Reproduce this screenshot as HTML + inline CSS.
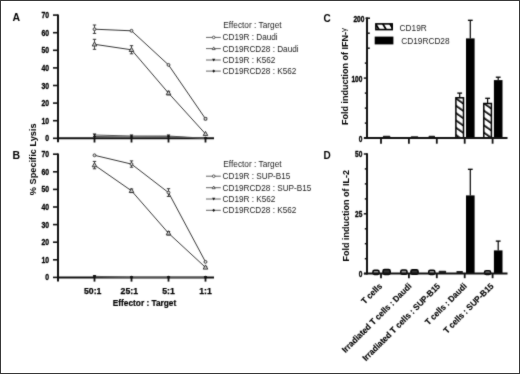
<!DOCTYPE html><html><head><meta charset="utf-8"><style>html,body{margin:0;padding:0;background:#fff;}svg{display:block;}</style></head><body><svg width="520" height="374" viewBox="0 0 520 374" font-family='"Liberation Sans", sans-serif'>
<defs><filter id="soft" x="0" y="0" width="520" height="374" filterUnits="userSpaceOnUse" color-interpolation-filters="sRGB"><feConvolveMatrix order="3" kernelMatrix="0.02 0.08 0.02 0.08 0.60 0.08 0.02 0.08 0.02" edgeMode="none"/></filter><pattern id="hatch" patternUnits="userSpaceOnUse" width="6" height="6" patternTransform="rotate(-55)"><rect width="6" height="6" fill="#fff"/><rect x="0" y="0" width="1.7" height="6" fill="#000"/></pattern><pattern id="hatch2" patternUnits="userSpaceOnUse" x="2.5" width="6.2" height="6.2" patternTransform="rotate(-30)"><rect width="6.2" height="6.2" fill="#fff"/><rect x="0" y="0" width="1.8" height="6.2" fill="#000"/></pattern></defs>
<rect x="0" y="0" width="520" height="374" fill="#fff"/>
<g filter="url(#soft)">
<text x="12.6" y="20.8" font-size="10.5" font-weight="bold">A</text>
<line x1="58" y1="14.5" x2="58" y2="142.3" stroke="#111" stroke-width="2"/>
<line x1="53" y1="138.3" x2="58" y2="138.3" stroke="#111" stroke-width="1.6"/>
<text transform="translate(49.2,141.3) scale(0.82,1)" font-size="8.4" font-weight="bold" text-anchor="end" stroke="#000" stroke-width="0.3">0</text>
<line x1="53" y1="120.7" x2="58" y2="120.7" stroke="#111" stroke-width="1.6"/>
<text transform="translate(49.2,123.7) scale(0.82,1)" font-size="8.4" font-weight="bold" text-anchor="end" stroke="#000" stroke-width="0.3">10</text>
<line x1="53" y1="103.1" x2="58" y2="103.1" stroke="#111" stroke-width="1.6"/>
<text transform="translate(49.2,106.1) scale(0.82,1)" font-size="8.4" font-weight="bold" text-anchor="end" stroke="#000" stroke-width="0.3">20</text>
<line x1="53" y1="85.5" x2="58" y2="85.5" stroke="#111" stroke-width="1.6"/>
<text transform="translate(49.2,88.5) scale(0.82,1)" font-size="8.4" font-weight="bold" text-anchor="end" stroke="#000" stroke-width="0.3">30</text>
<line x1="53" y1="67.9" x2="58" y2="67.9" stroke="#111" stroke-width="1.6"/>
<text transform="translate(49.2,70.9) scale(0.82,1)" font-size="8.4" font-weight="bold" text-anchor="end" stroke="#000" stroke-width="0.3">40</text>
<line x1="53" y1="50.3" x2="58" y2="50.3" stroke="#111" stroke-width="1.6"/>
<text transform="translate(49.2,53.3) scale(0.82,1)" font-size="8.4" font-weight="bold" text-anchor="end" stroke="#000" stroke-width="0.3">50</text>
<line x1="53" y1="32.7" x2="58" y2="32.7" stroke="#111" stroke-width="1.6"/>
<text transform="translate(49.2,35.7) scale(0.82,1)" font-size="8.4" font-weight="bold" text-anchor="end" stroke="#000" stroke-width="0.3">60</text>
<line x1="53" y1="15.1" x2="58" y2="15.1" stroke="#111" stroke-width="1.6"/>
<text transform="translate(49.2,18.1) scale(0.82,1)" font-size="8.4" font-weight="bold" text-anchor="end" stroke="#000" stroke-width="0.3">70</text>
<line x1="57" y1="138.3" x2="214" y2="138.3" stroke="#111" stroke-width="2"/>
<line x1="94.5" y1="138.3" x2="94.5" y2="142.5" stroke="#111" stroke-width="1.8"/>
<line x1="131.5" y1="138.3" x2="131.5" y2="142.5" stroke="#111" stroke-width="1.8"/>
<line x1="168.5" y1="138.3" x2="168.5" y2="142.5" stroke="#111" stroke-width="1.8"/>
<line x1="205.5" y1="138.3" x2="205.5" y2="142.5" stroke="#111" stroke-width="1.8"/>
<polyline points="94.5,135.0 131.5,136.0 168.5,136.0 205.5,138.3" fill="none" stroke="#555" stroke-width="1.0"/>
<path d="M92.7,133.556 L96.3,133.556 L94.5,136.556Z" fill="#111"/>
<path d="M129.7,134.612 L133.3,134.612 L131.5,137.612Z" fill="#111"/>
<path d="M166.7,134.612 L170.3,134.612 L168.5,137.612Z" fill="#111"/>
<path d="M203.7,136.9 L207.3,136.9 L205.5,139.9Z" fill="#111"/>
<polyline points="94.5,136.5 131.5,136.9 168.5,136.7 205.5,138.3" fill="none" stroke="#555" stroke-width="1.0"/>
<path d="M94.5,134.74 L96.1,136.54000000000002 L94.5,138.34000000000003 L92.9,136.54000000000002Z" fill="#111"/>
<path d="M131.5,135.092 L133.1,136.89200000000002 L131.5,138.69200000000004 L129.9,136.89200000000002Z" fill="#111"/>
<path d="M168.5,134.916 L170.1,136.716 L168.5,138.51600000000002 L166.9,136.716Z" fill="#111"/>
<path d="M205.5,136.5 L207.1,138.3 L205.5,140.10000000000002 L203.9,138.3Z" fill="#111"/>
<polyline points="94.5,29.2 131.5,30.8 168.5,64.9 205.5,118.8" fill="none" stroke="#353535" stroke-width="1.0"/>
<polyline points="94.5,44.3 131.5,49.8 168.5,93.1 205.5,133.9" fill="none" stroke="#353535" stroke-width="1.0"/>
<line x1="94.5" y1="25.0" x2="94.5" y2="33.4" stroke="#333" stroke-width="0.9"/>
<line x1="92.8" y1="25.0" x2="96.2" y2="25.0" stroke="#333" stroke-width="1"/>
<line x1="92.8" y1="33.4" x2="96.2" y2="33.4" stroke="#333" stroke-width="1"/>
<line x1="205.5" y1="117.7" x2="205.5" y2="119.8" stroke="#333" stroke-width="0.9"/>
<line x1="203.8" y1="117.7" x2="207.2" y2="117.7" stroke="#333" stroke-width="1"/>
<line x1="203.8" y1="119.8" x2="207.2" y2="119.8" stroke="#333" stroke-width="1"/>
<line x1="94.5" y1="39.3" x2="94.5" y2="49.3" stroke="#333" stroke-width="0.9"/>
<line x1="92.8" y1="39.3" x2="96.2" y2="39.3" stroke="#333" stroke-width="1"/>
<line x1="92.8" y1="49.3" x2="96.2" y2="49.3" stroke="#333" stroke-width="1"/>
<line x1="131.5" y1="45.7" x2="131.5" y2="53.8" stroke="#333" stroke-width="0.9"/>
<line x1="129.8" y1="45.7" x2="133.2" y2="45.7" stroke="#333" stroke-width="1"/>
<line x1="129.8" y1="53.8" x2="133.2" y2="53.8" stroke="#333" stroke-width="1"/>
<line x1="168.5" y1="91.3" x2="168.5" y2="94.8" stroke="#333" stroke-width="0.9"/>
<line x1="166.8" y1="91.3" x2="170.2" y2="91.3" stroke="#333" stroke-width="1"/>
<line x1="166.8" y1="94.8" x2="170.2" y2="94.8" stroke="#333" stroke-width="1"/>
<circle cx="94.5" cy="29.2" r="1.45" fill="#ddd" stroke="#333" stroke-width="0.9"/>
<circle cx="131.5" cy="30.8" r="1.45" fill="#ddd" stroke="#333" stroke-width="0.9"/>
<circle cx="168.5" cy="64.9" r="1.45" fill="#ddd" stroke="#333" stroke-width="0.9"/>
<circle cx="205.5" cy="118.8" r="1.45" fill="#ddd" stroke="#333" stroke-width="0.9"/>
<path d="M94.5,41.8 L96.8,46.0 L92.2,46.0Z" fill="#ccc" stroke="#333" stroke-width="0.95"/>
<path d="M131.5,47.3 L133.8,51.5 L129.2,51.5Z" fill="#ccc" stroke="#333" stroke-width="0.95"/>
<path d="M168.5,90.6 L170.8,94.8 L166.2,94.8Z" fill="#ccc" stroke="#333" stroke-width="0.95"/>
<path d="M205.5,131.4 L207.8,135.6 L203.2,135.6Z" fill="#ccc" stroke="#333" stroke-width="0.95"/>
<text x="223.3" y="27.5" font-size="8.3" fill="#222">Effector : Target</text>
<line x1="206" y1="37.4" x2="220.8" y2="37.4" stroke="#666" stroke-width="1"/>
<circle cx="213.7" cy="37.4" r="1.3" fill="#fff" stroke="#333" stroke-width="0.8"/>
<text x="222.6" y="40.4" font-size="8.2" fill="#222">CD19R : Daudi</text>
<line x1="206" y1="48.6" x2="220.8" y2="48.6" stroke="#666" stroke-width="1"/>
<path d="M213.7,46.9 L215.2,49.6 L212.2,49.6Z" fill="#fff" stroke="#333" stroke-width="0.8"/>
<text x="222.6" y="51.6" font-size="8.2" fill="#222">CD19RCD28 : Daudi</text>
<line x1="206" y1="60.0" x2="220.8" y2="60.0" stroke="#666" stroke-width="1"/>
<path d="M212.1,58.8 L215.29999999999998,58.8 L213.7,61.5Z" fill="#111"/>
<text x="222.6" y="63.0" font-size="8.2" fill="#222">CD19R : K562</text>
<line x1="206" y1="71.1" x2="220.8" y2="71.1" stroke="#666" stroke-width="1"/>
<path d="M213.7,69.5 L215.1,71.1 L213.7,72.7 L212.29999999999998,71.1Z" fill="#111"/>
<text x="222.6" y="74.1" font-size="8.2" fill="#222">CD19RCD28 : K562</text>
<text x="12.6" y="159.0" font-size="10.5" font-weight="bold">B</text>
<line x1="58" y1="153.6" x2="58" y2="281.4" stroke="#111" stroke-width="2"/>
<line x1="53" y1="277.4" x2="58" y2="277.4" stroke="#111" stroke-width="1.6"/>
<text transform="translate(49.2,280.4) scale(0.82,1)" font-size="8.4" font-weight="bold" text-anchor="end" stroke="#000" stroke-width="0.3">0</text>
<line x1="53" y1="259.8" x2="58" y2="259.8" stroke="#111" stroke-width="1.6"/>
<text transform="translate(49.2,262.8) scale(0.82,1)" font-size="8.4" font-weight="bold" text-anchor="end" stroke="#000" stroke-width="0.3">10</text>
<line x1="53" y1="242.2" x2="58" y2="242.2" stroke="#111" stroke-width="1.6"/>
<text transform="translate(49.2,245.2) scale(0.82,1)" font-size="8.4" font-weight="bold" text-anchor="end" stroke="#000" stroke-width="0.3">20</text>
<line x1="53" y1="224.6" x2="58" y2="224.6" stroke="#111" stroke-width="1.6"/>
<text transform="translate(49.2,227.6) scale(0.82,1)" font-size="8.4" font-weight="bold" text-anchor="end" stroke="#000" stroke-width="0.3">30</text>
<line x1="53" y1="207.0" x2="58" y2="207.0" stroke="#111" stroke-width="1.6"/>
<text transform="translate(49.2,210.0) scale(0.82,1)" font-size="8.4" font-weight="bold" text-anchor="end" stroke="#000" stroke-width="0.3">40</text>
<line x1="53" y1="189.4" x2="58" y2="189.4" stroke="#111" stroke-width="1.6"/>
<text transform="translate(49.2,192.4) scale(0.82,1)" font-size="8.4" font-weight="bold" text-anchor="end" stroke="#000" stroke-width="0.3">50</text>
<line x1="53" y1="171.8" x2="58" y2="171.8" stroke="#111" stroke-width="1.6"/>
<text transform="translate(49.2,174.8) scale(0.82,1)" font-size="8.4" font-weight="bold" text-anchor="end" stroke="#000" stroke-width="0.3">60</text>
<line x1="53" y1="154.2" x2="58" y2="154.2" stroke="#111" stroke-width="1.6"/>
<text transform="translate(49.2,157.2) scale(0.82,1)" font-size="8.4" font-weight="bold" text-anchor="end" stroke="#000" stroke-width="0.3">70</text>
<line x1="57" y1="277.4" x2="214" y2="277.4" stroke="#111" stroke-width="2"/>
<line x1="94.5" y1="277.4" x2="94.5" y2="281.6" stroke="#111" stroke-width="1.8"/>
<line x1="131.5" y1="277.4" x2="131.5" y2="281.6" stroke="#111" stroke-width="1.8"/>
<line x1="168.5" y1="277.4" x2="168.5" y2="281.6" stroke="#111" stroke-width="1.8"/>
<line x1="205.5" y1="277.4" x2="205.5" y2="281.6" stroke="#111" stroke-width="1.8"/>
<polyline points="94.5,276.3 131.5,277.4 168.5,277.4 205.5,277.4" fill="none" stroke="#555" stroke-width="1.0"/>
<path d="M92.7,274.944 L96.3,274.944 L94.5,277.944Z" fill="#111"/>
<path d="M129.7,276.0 L133.3,276.0 L131.5,279.0Z" fill="#111"/>
<path d="M166.7,276.0 L170.3,276.0 L168.5,279.0Z" fill="#111"/>
<path d="M203.7,276.0 L207.3,276.0 L205.5,279.0Z" fill="#111"/>
<polyline points="94.5,276.9 131.5,277.4 168.5,277.4 205.5,277.4" fill="none" stroke="#555" stroke-width="1.0"/>
<path d="M94.5,275.07199999999995 L96.1,276.87199999999996 L94.5,278.67199999999997 L92.9,276.87199999999996Z" fill="#111"/>
<path d="M131.5,275.59999999999997 L133.1,277.4 L131.5,279.2 L129.9,277.4Z" fill="#111"/>
<path d="M168.5,275.59999999999997 L170.1,277.4 L168.5,279.2 L166.9,277.4Z" fill="#111"/>
<path d="M205.5,275.59999999999997 L207.1,277.4 L205.5,279.2 L203.9,277.4Z" fill="#111"/>
<polyline points="94.5,155.3 131.5,164.1 168.5,192.6 205.5,261.9" fill="none" stroke="#353535" stroke-width="1.0"/>
<polyline points="94.5,165.1 131.5,190.8 168.5,233.2 205.5,267.4" fill="none" stroke="#353535" stroke-width="1.0"/>
<line x1="131.5" y1="160.9" x2="131.5" y2="167.2" stroke="#333" stroke-width="0.9"/>
<line x1="129.8" y1="160.9" x2="133.2" y2="160.9" stroke="#333" stroke-width="1"/>
<line x1="129.8" y1="167.2" x2="133.2" y2="167.2" stroke="#333" stroke-width="1"/>
<line x1="168.5" y1="188.7" x2="168.5" y2="196.4" stroke="#333" stroke-width="0.9"/>
<line x1="166.8" y1="188.7" x2="170.2" y2="188.7" stroke="#333" stroke-width="1"/>
<line x1="166.8" y1="196.4" x2="170.2" y2="196.4" stroke="#333" stroke-width="1"/>
<line x1="94.5" y1="161.4" x2="94.5" y2="168.8" stroke="#333" stroke-width="0.9"/>
<line x1="92.8" y1="161.4" x2="96.2" y2="161.4" stroke="#333" stroke-width="1"/>
<line x1="92.8" y1="168.8" x2="96.2" y2="168.8" stroke="#333" stroke-width="1"/>
<line x1="131.5" y1="189.0" x2="131.5" y2="192.6" stroke="#333" stroke-width="0.9"/>
<line x1="129.8" y1="189.0" x2="133.2" y2="189.0" stroke="#333" stroke-width="1"/>
<line x1="129.8" y1="192.6" x2="133.2" y2="192.6" stroke="#333" stroke-width="1"/>
<line x1="168.5" y1="231.5" x2="168.5" y2="235.0" stroke="#333" stroke-width="0.9"/>
<line x1="166.8" y1="231.5" x2="170.2" y2="231.5" stroke="#333" stroke-width="1"/>
<line x1="166.8" y1="235.0" x2="170.2" y2="235.0" stroke="#333" stroke-width="1"/>
<line x1="205.5" y1="266.5" x2="205.5" y2="268.2" stroke="#333" stroke-width="0.9"/>
<line x1="203.8" y1="266.5" x2="207.2" y2="266.5" stroke="#333" stroke-width="1"/>
<line x1="203.8" y1="268.2" x2="207.2" y2="268.2" stroke="#333" stroke-width="1"/>
<circle cx="94.5" cy="155.3" r="1.45" fill="#ddd" stroke="#333" stroke-width="0.9"/>
<circle cx="131.5" cy="164.1" r="1.45" fill="#ddd" stroke="#333" stroke-width="0.9"/>
<circle cx="168.5" cy="192.6" r="1.45" fill="#ddd" stroke="#333" stroke-width="0.9"/>
<circle cx="205.5" cy="261.9" r="1.45" fill="#ddd" stroke="#333" stroke-width="0.9"/>
<path d="M94.5,162.6 L96.8,166.8 L92.2,166.8Z" fill="#ccc" stroke="#333" stroke-width="0.95"/>
<path d="M131.5,188.3 L133.8,192.5 L129.2,192.5Z" fill="#ccc" stroke="#333" stroke-width="0.95"/>
<path d="M168.5,230.7 L170.8,234.9 L166.2,234.9Z" fill="#ccc" stroke="#333" stroke-width="0.95"/>
<path d="M205.5,264.9 L207.8,269.1 L203.2,269.1Z" fill="#ccc" stroke="#333" stroke-width="0.95"/>
<text x="223.3" y="166.7" font-size="8.3" fill="#222">Effector : Target</text>
<line x1="206" y1="176.2" x2="220.8" y2="176.2" stroke="#666" stroke-width="1"/>
<circle cx="213.7" cy="176.2" r="1.3" fill="#fff" stroke="#333" stroke-width="0.8"/>
<text x="222.6" y="179.2" font-size="8.2" fill="#222">CD19R : SUP-B15</text>
<line x1="206" y1="187.7" x2="220.8" y2="187.7" stroke="#666" stroke-width="1"/>
<path d="M213.7,186.0 L215.2,188.7 L212.2,188.7Z" fill="#fff" stroke="#333" stroke-width="0.8"/>
<text x="222.6" y="190.7" font-size="8.2" fill="#222">CD19RCD28 : SUP-B15</text>
<line x1="206" y1="199.0" x2="220.8" y2="199.0" stroke="#666" stroke-width="1"/>
<path d="M212.1,197.8 L215.29999999999998,197.8 L213.7,200.5Z" fill="#111"/>
<text x="222.6" y="202.0" font-size="8.2" fill="#222">CD19R : K562</text>
<line x1="206" y1="210.3" x2="220.8" y2="210.3" stroke="#666" stroke-width="1"/>
<path d="M213.7,208.7 L215.1,210.3 L213.7,211.9 L212.29999999999998,210.3Z" fill="#111"/>
<text x="222.6" y="213.3" font-size="8.2" fill="#222">CD19RCD28 : K562</text>
<text transform="translate(36.2,159.3) rotate(-90)" font-size="9.2" font-weight="bold" text-anchor="middle">% Specific Lysis</text>
<text x="84.0" y="293.7" font-size="8.7" font-weight="bold" stroke="#000" stroke-width="0.25">50:1</text>
<text x="120.6" y="293.7" font-size="8.7" font-weight="bold" stroke="#000" stroke-width="0.25">25:1</text>
<text x="162.2" y="293.7" font-size="8.7" font-weight="bold" stroke="#000" stroke-width="0.25">5:1</text>
<text x="199.2" y="293.7" font-size="8.7" font-weight="bold" stroke="#000" stroke-width="0.25">1:1</text>
<text x="144.5" y="306.0" font-size="8.3" font-weight="bold" text-anchor="middle" stroke="#000" stroke-width="0.2">Effector : Target</text>
<text x="323.4" y="21.6" font-size="10" font-weight="bold">C</text>
<line x1="367" y1="17.4" x2="367" y2="139.1" stroke="#111" stroke-width="2"/>
<line x1="363.8" y1="138.1" x2="367" y2="138.1" stroke="#111" stroke-width="1.5"/>
<line x1="364.8" y1="123.1" x2="367" y2="123.1" stroke="#111" stroke-width="1.5"/>
<line x1="364.8" y1="108.1" x2="367" y2="108.1" stroke="#111" stroke-width="1.5"/>
<line x1="364.8" y1="93.1" x2="367" y2="93.1" stroke="#111" stroke-width="1.5"/>
<line x1="363.8" y1="78.1" x2="367" y2="78.1" stroke="#111" stroke-width="1.5"/>
<line x1="364.8" y1="63.1" x2="367" y2="63.1" stroke="#111" stroke-width="1.5"/>
<line x1="367" y1="48.2" x2="369.8" y2="48.2" stroke="#111" stroke-width="1.5"/>
<line x1="367" y1="33.2" x2="369.8" y2="33.2" stroke="#111" stroke-width="1.5"/>
<line x1="365.5" y1="18.2" x2="370.0" y2="18.2" stroke="#111" stroke-width="1.5"/>
<text transform="translate(362.3,142.1) scale(0.78,1)" font-size="8.4" font-weight="bold" text-anchor="end" stroke="#000" stroke-width="0.35">0</text>
<text transform="translate(362.3,82.1) scale(0.78,1)" font-size="8.4" font-weight="bold" text-anchor="end" stroke="#000" stroke-width="0.35">100</text>
<text transform="translate(364.4,22.2) scale(0.78,1)" font-size="8.4" font-weight="bold" text-anchor="end" stroke="#000" stroke-width="0.35">200</text>
<rect x="382.9" y="135.7" width="7.4" height="2.0" rx="0.6" fill="#222"/>
<rect x="410.8" y="136.2" width="7.4" height="1.5" rx="0.6" fill="#222"/>
<rect x="428.6" y="135.7" width="6.4" height="2.0" rx="0.6" fill="#222"/>
<rect x="455.9" y="97.8" width="7.6" height="40.3" fill="url(#hatch)" stroke="#000" stroke-width="1.5"/>
<rect x="466.0" y="38.4" width="8.6" height="99.7" fill="#000"/>
<line x1="459.7" y1="93.1" x2="459.7" y2="97.8" stroke="#000" stroke-width="1.2"/>
<line x1="457.3" y1="93.1" x2="462.09999999999997" y2="93.1" stroke="#000" stroke-width="1.3"/>
<line x1="470.3" y1="20.3" x2="470.3" y2="38.4" stroke="#000" stroke-width="1.2"/>
<line x1="467.90000000000003" y1="20.3" x2="472.7" y2="20.3" stroke="#000" stroke-width="1.3"/>
<rect x="483.8" y="103.5" width="7.6" height="34.6" fill="url(#hatch)" stroke="#000" stroke-width="1.5"/>
<rect x="493.9" y="80.1" width="8.6" height="57.9" fill="#000"/>
<line x1="487.6" y1="98.3" x2="487.6" y2="103.5" stroke="#000" stroke-width="1.2"/>
<line x1="485.20000000000005" y1="98.3" x2="490.0" y2="98.3" stroke="#000" stroke-width="1.3"/>
<line x1="498.20000000000005" y1="77.2" x2="498.20000000000005" y2="80.1" stroke="#000" stroke-width="1.2"/>
<line x1="495.80000000000007" y1="77.2" x2="500.6" y2="77.2" stroke="#000" stroke-width="1.3"/>
<line x1="364" y1="138.1" x2="507.5" y2="138.1" stroke="#111" stroke-width="2"/>
<line x1="381.0" y1="138.1" x2="381.0" y2="143.7" stroke="#111" stroke-width="1.8"/>
<line x1="408.9" y1="138.1" x2="408.9" y2="143.7" stroke="#111" stroke-width="1.8"/>
<line x1="436.8" y1="138.1" x2="436.8" y2="143.7" stroke="#111" stroke-width="1.8"/>
<line x1="464.7" y1="138.1" x2="464.7" y2="143.7" stroke="#111" stroke-width="1.8"/>
<line x1="492.6" y1="138.1" x2="492.6" y2="143.7" stroke="#111" stroke-width="1.8"/>
<text transform="translate(347.8,125.0) rotate(-90)" font-size="9" font-weight="bold">Fold induction of IFN-<tspan font-weight="normal" font-size="8" dy="-1.6">γ</tspan></text>
<text x="323.4" y="159.2" font-size="10" font-weight="bold">D</text>
<line x1="367" y1="153.2" x2="367" y2="274.6" stroke="#111" stroke-width="2"/>
<line x1="363.8" y1="273.6" x2="367" y2="273.6" stroke="#111" stroke-width="1.5"/>
<line x1="364.8" y1="258.7" x2="367" y2="258.7" stroke="#111" stroke-width="1.5"/>
<line x1="364.8" y1="243.7" x2="367" y2="243.7" stroke="#111" stroke-width="1.5"/>
<line x1="364.8" y1="228.8" x2="367" y2="228.8" stroke="#111" stroke-width="1.5"/>
<line x1="363.8" y1="213.8" x2="367" y2="213.8" stroke="#111" stroke-width="1.5"/>
<line x1="364.8" y1="198.9" x2="367" y2="198.9" stroke="#111" stroke-width="1.5"/>
<line x1="364.8" y1="183.9" x2="367" y2="183.9" stroke="#111" stroke-width="1.5"/>
<line x1="364.8" y1="168.9" x2="367" y2="168.9" stroke="#111" stroke-width="1.5"/>
<line x1="363.8" y1="154.0" x2="367" y2="154.0" stroke="#111" stroke-width="1.5"/>
<text transform="translate(362.3,277.0) scale(0.78,1)" font-size="8.4" font-weight="bold" text-anchor="end" stroke="#000" stroke-width="0.35">0</text>
<text transform="translate(362.3,217.2) scale(0.78,1)" font-size="8.4" font-weight="bold" text-anchor="end" stroke="#000" stroke-width="0.35">25</text>
<text transform="translate(362.3,157.4) scale(0.78,1)" font-size="8.4" font-weight="bold" text-anchor="end" stroke="#000" stroke-width="0.35">50</text>
<rect x="372.9" y="270.3" width="6.2" height="4.1" rx="1.6" fill="#999" stroke="#000" stroke-width="1.5"/>
<rect x="383.0" y="269.6" width="7.2" height="4.8" rx="1.6" fill="#333" stroke="#000" stroke-width="1.5"/>
<rect x="400.8" y="270.0" width="6.2" height="4.3" rx="1.6" fill="#999" stroke="#000" stroke-width="1.5"/>
<rect x="410.9" y="269.8" width="7.2" height="4.5" rx="1.6" fill="#333" stroke="#000" stroke-width="1.5"/>
<rect x="428.7" y="270.3" width="6.2" height="4.1" rx="1.6" fill="#999" stroke="#000" stroke-width="1.5"/>
<rect x="438.7" y="270.8" width="7.4" height="2.4" rx="0.6" fill="#222"/>
<rect x="456.5" y="271.0" width="6.4" height="2.2" rx="0.6" fill="#222"/>
<rect x="466.0" y="195.4" width="8.6" height="78.2" fill="#000"/>
<line x1="470.3" y1="169.3" x2="470.3" y2="195.4" stroke="#000" stroke-width="1.2"/>
<line x1="467.90000000000003" y1="169.3" x2="472.7" y2="169.3" stroke="#000" stroke-width="1.3"/>
<rect x="484.5" y="270.8" width="6.2" height="3.6" rx="1.6" fill="#999" stroke="#000" stroke-width="1.5"/>
<rect x="493.9" y="250.4" width="8.6" height="23.2" fill="#000"/>
<line x1="498.20000000000005" y1="241.1" x2="498.20000000000005" y2="250.4" stroke="#000" stroke-width="1.2"/>
<line x1="495.80000000000007" y1="241.1" x2="500.6" y2="241.1" stroke="#000" stroke-width="1.3"/>
<line x1="364" y1="273.6" x2="507.5" y2="273.6" stroke="#111" stroke-width="2"/>
<line x1="381.0" y1="273.6" x2="381.0" y2="278.2" stroke="#111" stroke-width="1.8"/>
<line x1="408.9" y1="273.6" x2="408.9" y2="278.2" stroke="#111" stroke-width="1.8"/>
<line x1="436.8" y1="273.6" x2="436.8" y2="278.2" stroke="#111" stroke-width="1.8"/>
<line x1="464.7" y1="273.6" x2="464.7" y2="278.2" stroke="#111" stroke-width="1.8"/>
<line x1="492.6" y1="273.6" x2="492.6" y2="278.2" stroke="#111" stroke-width="1.8"/>
<text transform="translate(349.0,261.5) rotate(-90)" font-size="9" font-weight="bold">Fold induction of IL-2</text>
<rect x="375.9" y="23.9" width="16.3" height="5.7" fill="url(#hatch2)" stroke="#000" stroke-width="1.6"/>
<rect x="374.7" y="36.6" width="18.7" height="7.8" fill="#000"/>
<text x="399.6" y="30.5" font-size="8.3" fill="#222">CD19R</text>
<text x="401.2" y="44.2" font-size="8.3" fill="#222">CD19RCD28</text>
<text transform="translate(382.6,286.7) rotate(-45) scale(0.94,1)" font-size="8.65" font-weight="bold" text-anchor="end" stroke="#000" stroke-width="0.15">T cells</text>
<text transform="translate(412.1,286.7) rotate(-45) scale(0.94,1)" font-size="8.65" font-weight="bold" text-anchor="end" stroke="#000" stroke-width="0.15">Irradiated T cells : Daudi</text>
<text transform="translate(440.8,286.7) rotate(-45) scale(0.94,1)" font-size="8.65" font-weight="bold" text-anchor="end" stroke="#000" stroke-width="0.15">Irradiated T cells : SUP-B15</text>
<text transform="translate(467.4,286.7) rotate(-45) scale(0.94,1)" font-size="8.65" font-weight="bold" text-anchor="end" stroke="#000" stroke-width="0.15">T cells : Daudi</text>
<text transform="translate(494.1,286.7) rotate(-45) scale(0.94,1)" font-size="8.65" font-weight="bold" text-anchor="end" stroke="#000" stroke-width="0.15">T cells : SUP-B15</text>
</g>
<rect x="0.5" y="0.5" width="519" height="373" fill="none" stroke="#383838" stroke-width="1"/>
</svg></body></html>
